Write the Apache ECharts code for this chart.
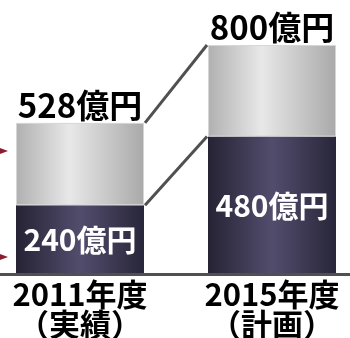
<!DOCTYPE html>
<html>
<head>
<meta charset="utf-8">
<style>html,body{margin:0;padding:0;background:#fff;}#c{width:350px;height:338px;}</style>
<script src="https://cdn.jsdelivr.net/npm/echarts@6/dist/echarts.min.js"></script>
</head>
<body>
<div id="c"></div>
<script>
const categories = ['2011年度\n（実績）', '2015年度\n（計画）'];
const baseValues = [240, 480];
const totalValues = [528, 800];
const upperValues = totalValues.map((t, i) => t - baseValues[i]);
const unit = '億円';

const BAR_W = 128;
const FONT = 'Noto Sans CJK JP';
const WEIGHT = 'bold';

const greyGrad = new echarts.graphic.LinearGradient(0, 0, 1, 0, [
  {offset: 0, color: '#b0b0b0'},
  {offset: 0.42, color: '#e8e8e8'},
  {offset: 1, color: '#a9a9a9'}
]);
const darkGrad = new echarts.graphic.LinearGradient(0, 0, 1, 0, [
  {offset: 0, color: '#252334'},
  {offset: 0.5, color: '#534d6d'},
  {offset: 1, color: '#28263a'}
]);

const connectors = [
  [0, totalValues[0], 1, totalValues[1]],
  [0, baseValues[0], 1, baseValues[1]]
];

const chart = echarts.init(document.getElementById('c'));
chart.setOption({
  animation: false,
  grid: {left: -16, right: -18, top: 45, bottom: 64, containLabel: false, outerBoundsMode: 'none'},
  xAxis: {
    type: 'category',
    data: categories,
    z: 5,
    axisTick: {show: false},
    axisLine: {lineStyle: {color: '#505050', width: 3}},
    axisLabel: {
      color: '#000', fontSize: 31, lineHeight: 30, margin: 5,
      fontFamily: FONT, fontWeight: WEIGHT, interval: 0
    }
  },
  yAxis: {type: 'value', min: 0, max: 800, show: false, splitLine: {show: false}},
  series: [
    {
      type: 'bar', stack: 's', barWidth: BAR_W, data: baseValues,
      itemStyle: {color: darkGrad},
      emphasis: {disabled: true},
      label: {
        show: true, position: 'inside', color: '#fff', fontSize: 30,
        fontFamily: FONT, fontWeight: WEIGHT, formatter: p => p.value + unit
      }
    },
    {
      type: 'bar', stack: 's', barWidth: BAR_W, data: upperValues,
      itemStyle: {color: greyGrad, borderColor: '#d6d6d6', borderWidth: 1},
      emphasis: {disabled: true},
      label: {
        show: true, position: 'top', distance: 1, color: '#000', fontSize: 33,
        fontFamily: FONT, fontWeight: WEIGHT, formatter: p => totalValues[p.dataIndex] + unit
      }
    },
    {
      type: 'custom', coordinateSystem: 'cartesian2d', data: connectors,
      encode: {x: 0, y: 1}, silent: true, z: 4,
      renderItem: function (params, api) {
        const a = api.coord([api.value(0), api.value(1)]);
        const b = api.coord([api.value(2), api.value(3)]);
        const hw = BAR_W / 2;
        return {
          type: 'line',
          shape: {x1: a[0] + hw + 1, y1: a[1], x2: b[0] - hw - 1, y2: b[1]},
          style: {stroke: '#505050', lineWidth: 3}
        };
      }
    }
  ],
  graphic: [
    {type: 'polygon', shape: {points: [[0, 148], [8, 151], [0, 154]]}, style: {fill: '#8c1d2e'}},
    {type: 'polygon', shape: {points: [[0, 254], [8, 257], [0, 260]]}, style: {fill: '#8c1d2e'}}
  ]
});
</script>
</body>
</html>
